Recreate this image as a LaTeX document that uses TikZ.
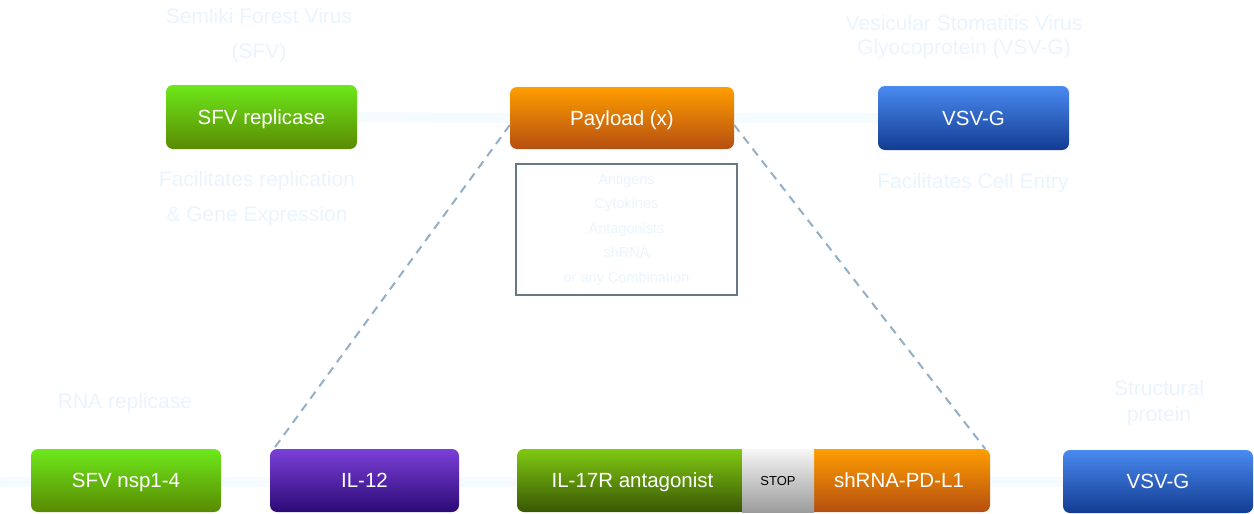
\documentclass[tikz,border=0pt]{standalone}
\usepackage{fontspec}
\setmainfont{Liberation Sans}
\usetikzlibrary{calc,backgrounds}
\definecolor{faint}{HTML}{EAF4FF}
\definecolor{band}{HTML}{F6FBFF}
\definecolor{dashc}{HTML}{93AFC8}
\definecolor{boxline}{HTML}{6A7785}
\definecolor{grnT}{HTML}{6DE81B}\definecolor{grnB}{HTML}{5A8A02}
\definecolor{orgT}{HTML}{FF9D00}\definecolor{orgB}{HTML}{B54F10}
\definecolor{bluT}{HTML}{4A8AF0}\definecolor{bluB}{HTML}{123C92}
\definecolor{purT}{HTML}{7B40D8}\definecolor{purB}{HTML}{2C0A76}
\definecolor{dgrT}{HTML}{80CA12}\definecolor{dgrB}{HTML}{395604}
\definecolor{gryT}{HTML}{F6F6F6}\definecolor{gryB}{HTML}{9C9C9C}
\begin{document}
\begin{tikzpicture}[x=1pt,y=-1pt,
  box/.style={rounded corners=7pt, minimum height=63pt, text=white, inner sep=0pt,
    font=\fontsize{20.5}{24}\selectfont, text height=14.7pt, text depth=0pt},
  grn/.style={top color=grnT, bottom color=grnB},
  org/.style={top color=orgT, bottom color=orgB},
  blu/.style={top color=bluT, bottom color=bluB},
  pur/.style={top color=purT, bottom color=purB},
  dgrn/.style={top color=dgrT, bottom color=dgrB},
  gry/.style={top color=gryT, bottom color=gryB},
  note/.style={text=faint, align=center},
  bandline/.style={band, line width=10pt},
  link/.style={dashc, line width=2pt, dash pattern=on 8.5pt off 6.5pt}
]
\useasboundingbox (0,0) rectangle (1254,514);

% nodes (top row)
\node[box, grn, minimum width=191pt, minimum height=64pt] (sfv) at (261.5,117) {SFV replicase};
\node[box, org, minimum width=224pt, minimum height=62pt] (pay) at (622,118) {Payload (x)};
\node[box, blu, minimum width=191pt, minimum height=64pt] (vsv) at (973.5,118) {VSV-G};

% bottom row
\node[box, grn, minimum width=190pt] (nsp) at (126,480.5) {SFV nsp1-4};
\node[box, pur, minimum width=189pt] (il12) at (364.5,480.5) {IL-12};
\node[box, dgrn, minimum width=231pt] (il17) at (632.5,480.5) {IL-17R antagonist};
\node[box, org, minimum width=182pt] (shr) at (899,480.5) {shRNA-PD-L1};
\node[box, gry, rounded corners=0pt, minimum width=72pt, text=black,
  font=\fontsize{13}{15}\selectfont, text height=9.3pt] (stop) at (778,480.5) {STOP};
\node[box, blu, minimum width=190pt] (vsvb) at (1158,481.5) {VSV-G};

% payload list
\node[draw=boxline, line width=1.2pt, minimum width=221pt, minimum height=131pt,
  note, font=\fontsize{14.5}{24.5}\selectfont] (list) at (626.5,229.5)
  {Antigens\\Cytokines\\Antagonists\\shRNA\\or any Combination};

% faint labels
\node[note, font=\fontsize{21}{35}\selectfont] (semt) at (259,36) {Semliki Forest Virus\\(SFV)};
\node[note, font=\fontsize{21}{35}\selectfont] (fact) at (257,199) {Facilitates replication\\\& Gene Expression};
\node[note, font=\fontsize{21}{24}\selectfont] (vsvt) at (964,37) {Vesicular Stomatitis Virus\\Glyocoprotein (VSV-G)};
\node[note, font=\fontsize{21}{24}\selectfont] (cell) at (973,183) {Facilitates Cell Entry};
\node[note, font=\fontsize{21}{24}\selectfont] (rna) at (125,403) {RNA replicase};
\node[note, font=\fontsize{21}{26}\selectfont] (strt) at (1159,403) {Structural\\protein};

% faint bands
\coordinate (lft) at (0,482);
\begin{scope}[on background layer]
\draw[bandline] (sfv.east) -- (pay.west);
\draw[bandline] (pay.east) -- (vsv.west);
\draw[bandline] (lft) -- (vsvb.west);
\end{scope}

% dashed connectors
\draw[link] ([yshift=-7pt]pay.west) -- ([xshift=4pt]il12.north west);
\draw[link] ([yshift=-7pt]pay.east) -- ([xshift=-5pt]shr.north east);
\end{tikzpicture}
\end{document}
